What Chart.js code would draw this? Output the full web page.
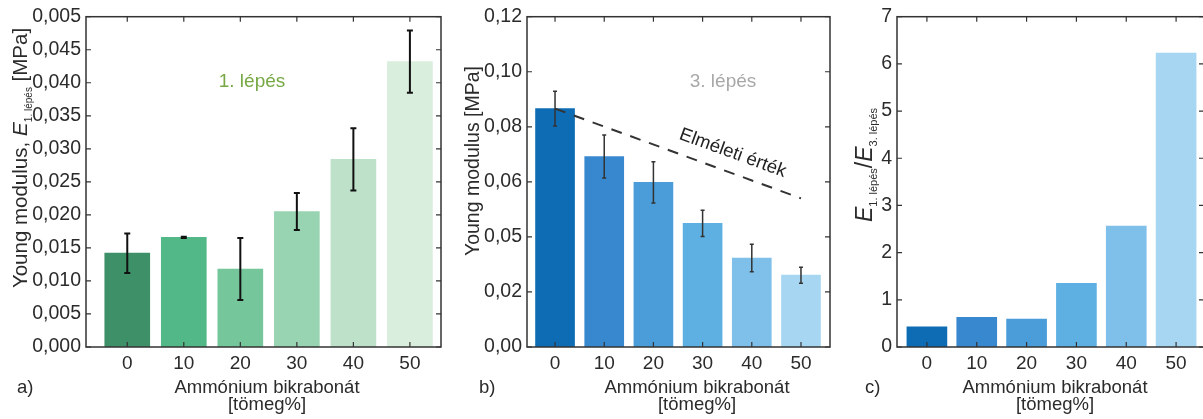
<!DOCTYPE html>
<html>
<head>
<meta charset="utf-8">
<script src="https://cdn.jsdelivr.net/npm/chart.js@4/dist/chart.umd.min.js"></script>
<style>
  html, body { margin: 0; padding: 0; background: #fff; overflow: hidden; width: 1203px; height: 419px; }
  .panel { position: absolute; top: 0; height: 419px; }
</style>
</head>
<body>
<div class="panel" style="left:0;width:445px"><canvas id="chartA"></canvas></div>
<div class="panel" style="left:445px;width:392px"><canvas id="chartB"></canvas></div>
<div class="panel" style="left:838px;width:368px"><canvas id="chartC"></canvas></div>
<script>
// ammonium bicarbonate content [tömeg%]
const categories = [0, 10, 20, 30, 40, 50];

// a) Young modulus after step 1
const step1Modulus = [0.0142, 0.0166, 0.0118, 0.0205, 0.0284, 0.0432];
const step1Error   = [0.0030, 0.0001, 0.0047, 0.0028, 0.0047, 0.0047];

// b) Young modulus after step 3 + theoretical line
const step3Modulus = [0.0866, 0.0692, 0.0598, 0.0449, 0.0323, 0.0261];
const step3Error   = [0.0063, 0.0078, 0.0075, 0.0048, 0.0050, 0.0029];
const theoryX = [0, 50];
const theoryY = [0.0866, 0.0540];

// c) ratio E1 / E3
const ratio = [0.43, 0.63, 0.59, 1.35, 2.56, 6.23];

// tick labels as printed on the original
const yTicksA = ['0,000', '0,005', '0,010', '0,015', '0,020', '0,025', '0,030', '0,035', '0,040', '0,045', '0,005'];
const yTicksB = ['0,00', '0,02', '0,05', '0,06', '0,08', '0,10', '0,12'];
const yTicksC = ['0', '1', '2', '3', '4', '5', '6', '7'];

const greens = ['#3e9069', '#52b887', '#76c69c', '#98d4b1', '#bde2c9', '#d9eedc'];
const blues  = ['#0e6cb5', '#3888cf', '#4a9dd8', '#5eb0e2', '#7fc0ea', '#a7d6f2'];

const FONT = '"Liberation Sans", Arial, sans-serif';
Chart.defaults.font.family = FONT;
Chart.defaults.color = '#2b2b2b';

const decorCfg = {
  chartA: {
    values: step1Modulus, err: step1Error, errColor: '#111', errWidth: 2, cap: 3,
    yTitle: { x: 20, y: 158, parts: [
      { t: 'Young modulus, ', size: 20.5 },
      { t: 'E', size: 21, italic: true },
      { t: '1. lépés', size: 10, dy: 5 },
      { t: ' [MPa]', size: 20.5 } ] },
    letter: { t: 'a)', x: 17, y: 388 },
    xTitle: { x: 267 },
    note: { t: '1. lépés', x: 252, y: 82, color: '#76a844' }
  },
  chartB: {
    values: step3Modulus, err: step3Error, errColor: '#333', errWidth: 1.5, cap: 2,
    yTitle: { x: 27, y: 161, parts: [ { t: 'Young modulus [MPa]', size: 19.5 } ] },
    letter: { t: 'b)', x: 34, y: 388 },
    xTitle: { x: 252 },
    note: { t: '3. lépés', x: 278, y: 82, color: '#a8a8a8' },
    lineLabel: { t: 'Elméleti érték', at: 34.8, off: 14 }
  },
  chartC: {
    yTitle: { x: 27, y: 165, parts: [
      { t: 'E', size: 23, italic: true },
      { t: '1. lépés', size: 11, dy: 5 },
      { t: '/', size: 23 },
      { t: 'E', size: 23, italic: true },
      { t: '3. lépés', size: 11, dy: 5 } ] },
    letter: { t: 'c)', x: 27, y: 388 },
    xTitle: { x: 217 }
  }
};

function fontOf(p) {
  return (p.italic ? 'italic ' : '') + p.size + 'px ' + FONT;
}

function drawRotated(ctx, parts, cx, cy) {
  let total = 0;
  const widths = parts.map(p => { ctx.font = fontOf(p); const w = ctx.measureText(p.t).width; total += w; return w; });
  ctx.save();
  ctx.translate(cx, cy);
  ctx.rotate(-Math.PI / 2);
  ctx.textAlign = 'left';
  ctx.textBaseline = 'alphabetic';
  ctx.fillStyle = '#2b2b2b';
  let pos = -total / 2;
  parts.forEach((p, i) => {
    ctx.font = fontOf(p);
    ctx.fillText(p.t, pos, 7 + (p.dy || 0));
    pos += widths[i];
  });
  ctx.restore();
}

const decor = {
  id: 'decor',
  afterDraw(chart) {
    const cfg = decorCfg[chart.canvas.id];
    const { ctx, chartArea: a, scales: { x, y } } = chart;
    ctx.save();

    // error bars
    if (cfg.err) {
      ctx.strokeStyle = cfg.errColor;
      ctx.lineWidth = cfg.errWidth;
      cfg.values.forEach((v, i) => {
        const px = x.getPixelForValue(categories[i]);
        const top = y.getPixelForValue(v + cfg.err[i]);
        const bot = y.getPixelForValue(v - cfg.err[i]);
        ctx.beginPath();
        ctx.moveTo(px, top); ctx.lineTo(px, bot);
        ctx.moveTo(px - cfg.cap, top); ctx.lineTo(px + cfg.cap, top);
        ctx.moveTo(px - cfg.cap, bot); ctx.lineTo(px + cfg.cap, bot);
        ctx.stroke();
      });
    }

    // frame with inward ticks on all sides
    ctx.strokeStyle = '#333';
    ctx.lineWidth = 1.5;
    ctx.strokeRect(a.left, a.top, a.right - a.left, a.bottom - a.top);
    ctx.lineWidth = 1.2;
    ctx.beginPath();
    y.ticks.forEach(t => {
      const py = y.getPixelForValue(t.value);
      ctx.moveTo(a.left, py); ctx.lineTo(a.left + 5, py);
      ctx.moveTo(a.right, py); ctx.lineTo(a.right - 5, py);
    });
    x.ticks.forEach(t => {
      const px = x.getPixelForValue(t.value);
      ctx.moveTo(px, a.bottom); ctx.lineTo(px, a.bottom - 5);
      ctx.moveTo(px, a.top); ctx.lineTo(px, a.top + 5);
    });
    ctx.stroke();

    // texts
    drawRotated(ctx, cfg.yTitle.parts, cfg.yTitle.x, cfg.yTitle.y);
    ctx.fillStyle = '#2b2b2b';
    ctx.font = '18.5px ' + FONT;
    ctx.textBaseline = 'middle';
    ctx.textAlign = 'left';
    ctx.fillText(cfg.letter.t, cfg.letter.x, cfg.letter.y);
    ctx.textAlign = 'center';
    ctx.fillText('Ammónium bikrabonát', cfg.xTitle.x, 388);
    ctx.fillText('[tömeg%]', cfg.xTitle.x, 405);

    if (cfg.note) {
      ctx.fillStyle = cfg.note.color;
      ctx.font = '19px ' + FONT;
      ctx.fillText(cfg.note.t, cfg.note.x, cfg.note.y);
    }

    if (cfg.lineLabel) {
      const x1 = x.getPixelForValue(theoryX[0]), y1 = y.getPixelForValue(theoryY[0]);
      const x2 = x.getPixelForValue(theoryX[1]), y2 = y.getPixelForValue(theoryY[1]);
      const f = (cfg.lineLabel.at - theoryX[0]) / (theoryX[1] - theoryX[0]);
      const ang = Math.atan2(y2 - y1, x2 - x1);
      ctx.save();
      ctx.translate(x1 + (x2 - x1) * f, y1 + (y2 - y1) * f);
      ctx.rotate(ang);
      ctx.fillStyle = '#222';
      ctx.font = '18.5px ' + FONT;
      ctx.textAlign = 'center';
      ctx.textBaseline = 'alphabetic';
      ctx.fillText(cfg.lineLabel.t, 0, -cfg.lineLabel.off);
      ctx.restore();
    }
    ctx.restore();
  }
};

function makeChart(id, datasets, opt) {
  return new Chart(document.getElementById(id), {
    type: 'bar',
    data: { datasets: datasets },
    options: {
      responsive: true,
      maintainAspectRatio: false,
      animation: false,
      devicePixelRatio: 1,
      layout: { padding: { left: 0, top: 16, right: opt.padRight, bottom: 0 } },
      plugins: { legend: { display: false }, tooltip: { enabled: false } },
      scales: {
        x: {
          type: 'linear',
          min: opt.xMin, max: opt.xMax,
          offset: false,
          grid: { display: false, drawTicks: false },
          border: { display: false },
          ticks: { padding: 5, font: { size: 19 }, color: '#2b2b2b' },
          afterBuildTicks: s => { s.ticks = categories.map(v => ({ value: v })); },
          afterFit: s => { s.height = 72; }
        },
        y: {
          min: 0, max: opt.yMax,
          grid: { display: false, drawTicks: false },
          border: { display: false },
          ticks: {
            padding: 5, font: { size: 19.5 }, color: '#2b2b2b',
            callback: (v, i) => opt.yLabels[i]
          },
          afterBuildTicks: s => { s.ticks = opt.yLabels.map((_, i) => ({ value: i * opt.yStep })); },
          afterFit: s => { s.width = opt.left; }
        }
      }
    },
    plugins: [decor]
  });
}

const pts = vals => vals.map((v, i) => ({ x: categories[i], y: v }));

makeChart('chartA', [{
  data: pts(step1Modulus),
  backgroundColor: greens,
  borderWidth: 0,
  barThickness: 45
}], { left: 86, padRight: 4, xMin: -7.3, xMax: 55.5, yMax: 0.05, yStep: 0.005, yLabels: yTicksA });

makeChart('chartB', [{
  type: 'line',
  data: theoryX.map((v, i) => ({ x: v, y: theoryY[i] })),
  borderColor: '#333',
  borderWidth: 2,
  borderDash: [11, 9],
  pointRadius: 0,
  order: 0
}, {
  data: pts(step3Modulus),
  backgroundColor: blues,
  borderWidth: 0,
  barThickness: 39,
  order: 1
}], { left: 82, padRight: 7, xMin: -5.7, xMax: 55.9, yMax: 0.12, yStep: 0.02, yLabels: yTicksB });

makeChart('chartC', [{
  data: pts(ratio),
  backgroundColor: blues,
  borderWidth: 0,
  barThickness: 40
}], { left: 59, padRight: 2, xMin: -6.0, xMax: 55.6, yMax: 7, yStep: 1, yLabels: yTicksC });
</script>
</body>
</html>
